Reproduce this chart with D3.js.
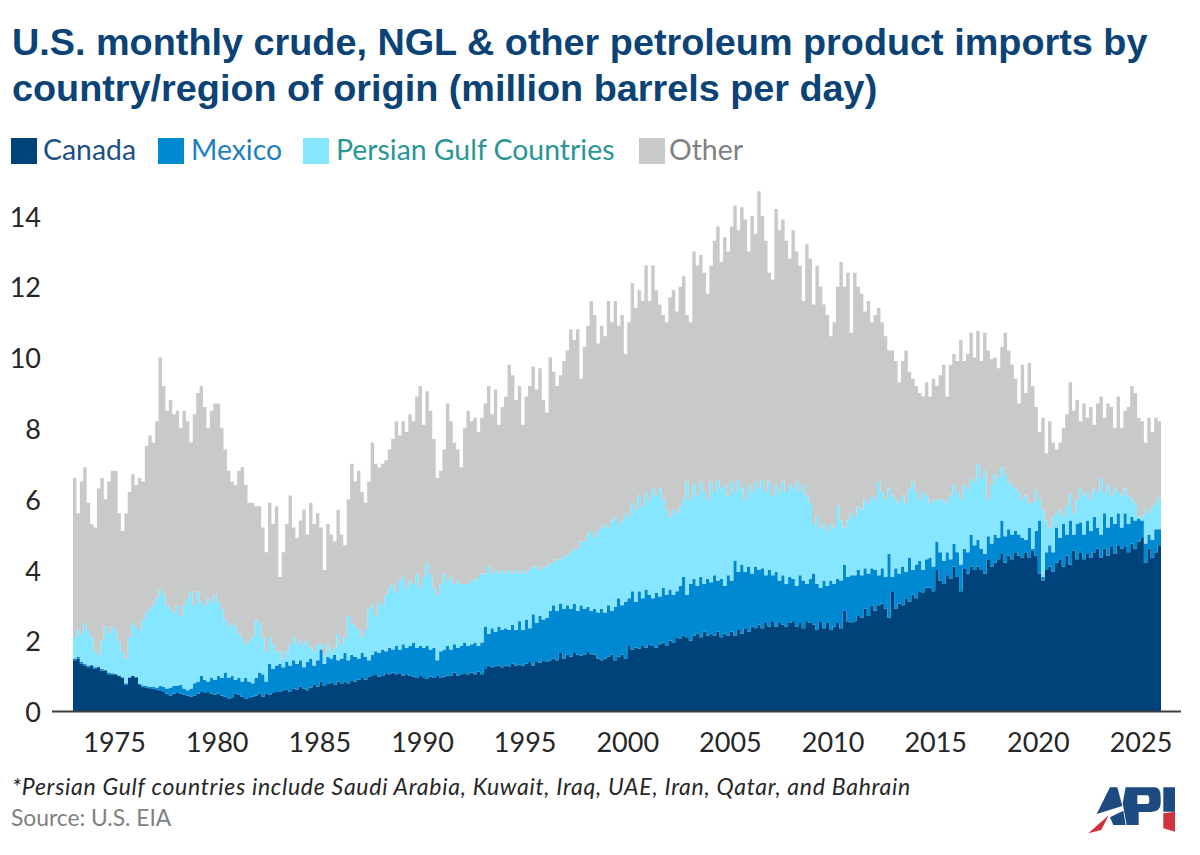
<!DOCTYPE html>
<html><head><meta charset="utf-8">
<script src="https://cdn.jsdelivr.net/npm/d3@7/dist/d3.min.js"></script>
<style>
html,body{margin:0;padding:0;background:#fff}
svg{display:block}
text{font-family:Lato,"Open Sans",sans-serif}
</style></head><body>
<svg id="c" width="1200" height="855"></svg>
<script>
const titleLines = ["U.S. monthly crude, NGL & other petroleum product imports by","country/region of origin (million barrels per day)"];
const seriesNames = ["Canada","Mexico","Persian Gulf Countries","Other"];
const seriesColors = ["#00427a","#0089d3","#86e5ff","#c8c9c9"];
const legendTextColors = ["#1d4f87","#1f7fc1","#2a9597","#7f8080"];
const yTicks = [0,2,4,6,8,10,12,14];
const xTicks = [1975,1980,1985,1990,1995,2000,2005,2010,2015,2020,2025];
const startYear = 1973, samplesPerYear = 6;

// Levels (stack boundaries), six readings per year, 1973-2025
const canadaLevel = [
1.45,1.5,1.35,1.3,1.25,1.3, 1.2,1.25,1.15,1.15,1.05,1.05, 1.05,1.0,.95,.75,.95,1.0, .95,.75,.7,.68,.66,.65,
.62,.6,.55,.5,.45,.5, .52,.5,.48,.45,.42,.45, .5,.55,.52,.55,.5,.48, .5,.45,.42,.35,.4,.5,
.48,.42,.35,.38,.42,.45, .5,.42,.5,.48,.52,.55, .55,.6,.62,.55,.65,.62, .7,.65,.6,.68,.75,.7,
.85,.72,.78,.82,.75,.85, .78,.85,.8,.88,.85,.9, .95,.9,.98,1.0,1.05,.98, 1.0,1.08,1.05,1.1,1.05,1.08,
1.02,1.05,1.0,.98,.95,1.0, .95,.92,.98,.95,1.0,.95, .98,1.02,1.0,1.1,1.02,1.05, 1.08,1.05,1.1,1.05,1.12,1.05,
1.2,1.3,1.25,1.28,1.3,1.25, 1.3,1.28,1.35,1.3,1.32,1.3, 1.35,1.4,1.3,1.42,1.38,1.45, 1.4,1.45,1.5,1.45,1.65,1.5,
1.6,1.55,1.65,1.6,1.58,1.6, 1.68,1.62,1.6,1.5,1.45,1.5, 1.55,1.6,1.45,1.55,1.6,1.5, 1.85,1.75,1.8,1.78,1.85,1.8,
1.9,1.85,1.8,1.9,1.95,1.85, 2.0,1.95,2.1,2.05,2.15,2.1, 2.0,2.15,2.2,2.1,2.25,2.15, 2.2,2.15,2.25,2.1,2.2,2.15,
2.25,2.15,2.3,2.2,2.35,2.25, 2.4,2.35,2.45,2.35,2.5,2.4, 2.55,2.4,2.5,2.45,2.4,2.5, 2.55,2.4,2.5,2.35,2.55,2.5,
2.45,2.3,2.55,2.35,2.5,2.3, 2.4,2.5,2.35,2.85,2.55,2.5, 2.55,2.7,2.65,2.9,2.7,3.0, 2.85,3.0,3.05,2.9,2.65,3.4,
2.9,3.05,3.0,3.2,3.1,3.3, 3.2,3.4,3.35,3.5,3.5,3.4, 4.0,3.7,3.6,3.85,3.75,4.1, 3.8,3.4,4.05,3.9,4.1,4.0,
4.1,4.0,3.9,4.3,4.1,4.2, 4.3,4.45,4.2,4.4,4.3,4.5, 4.4,4.35,4.5,4.35,4.55,4.4, 3.9,3.7,4.0,4.1,3.95,4.2,
4.3,4.1,4.4,4.15,4.55,4.3, 4.5,4.3,4.45,4.35,4.5,4.6, 4.35,4.6,4.4,4.65,4.45,4.7, 4.6,4.65,4.5,4.75,4.6,4.8,
4.9,4.2,4.6,4.35,4.5,4.7];
const mexicoLevel = [
1.5,1.55,1.4,1.35,1.3,1.32, 1.25,1.27,1.2,1.18,1.1,1.08, 1.07,1.02,.97,.8,.97,1.02, .98,.78,.74,.72,.7,.7,
.68,.72,.7,.65,.68,.72, .72,.75,.65,.6,.65,.8, .85,1.0,.9,.85,.95,.9, 1.0,.95,1.1,.95,1.0,.9,
.95,.85,.95,.85,.8,.95, 1.1,1.05,.85,1.35,1.2,1.3, 1.35,1.25,1.4,1.3,1.45,1.35, 1.45,1.25,1.4,1.5,1.3,1.45,
1.75,1.35,1.55,1.5,1.6,1.45, 1.5,1.65,1.45,1.6,1.55,1.5, 1.65,1.55,1.45,1.6,1.7,1.65, 1.75,1.7,1.8,1.75,1.85,1.75,
1.9,1.8,1.85,1.95,1.8,1.85, 1.8,1.85,1.75,1.8,1.45,1.7, 1.75,1.85,1.75,1.9,1.8,1.85, 1.95,1.85,1.9,1.95,1.85,1.95,
2.4,2.2,2.35,2.25,2.4,2.3, 2.35,2.3,2.45,2.3,2.55,2.3, 2.6,2.35,2.75,2.5,2.7,2.6, 2.65,2.85,3.0,2.85,3.05,2.9,
3.0,2.9,3.05,2.85,3.0,2.9, 2.95,2.85,2.9,2.8,2.9,2.8, 3.0,2.85,2.95,3.2,3.0,3.1, 3.2,3.4,3.1,3.4,3.2,3.45,
3.3,3.2,3.35,3.25,3.5,3.3, 3.45,3.3,3.4,3.55,3.8,3.3, 3.6,3.75,3.55,3.8,3.6,3.75, 3.65,3.85,3.7,3.75,3.55,3.85,
3.7,4.25,3.95,4.15,3.95,4.1, 3.9,4.1,4.0,4.05,3.85,4.0, 3.85,3.95,3.7,3.85,3.6,3.8, 3.75,3.55,3.85,3.7,3.6,3.75,
3.9,3.6,3.5,3.7,3.55,3.7, 3.6,3.75,3.7,4.15,3.8,3.85, 3.85,4.0,3.85,4.05,3.9,4.05, 4.0,3.85,4.05,3.8,4.45,3.8,
4.05,3.9,4.1,3.95,4.35,4.0, 4.15,4.25,4.0,4.3,4.35,4.1, 4.8,4.5,4.25,4.5,4.3,4.75, 4.5,4.15,4.6,4.5,5.0,4.7,
4.85,4.6,4.45,4.95,4.75,5.0, 4.9,5.4,4.95,5.15,5.0,5.1, 5.0,4.9,4.85,5.2,4.6,5.1, 5.4,3.8,4.5,4.7,4.5,5.2,
4.9,5.3,5.0,5.4,5.0,5.3, 5.35,5.0,5.4,5.1,5.5,5.2, 5.0,5.6,5.2,5.5,5.3,5.6, 5.2,5.6,5.3,5.5,5.4,5.45,
5.4,4.75,5.0,4.85,5.15,5.15];
const gulfLevel = [
2.1,2.3,2.2,2.5,2.3,2.1, 1.7,1.6,2.0,2.4,2.2,2.4, 2.3,2.0,1.7,1.5,2.1,2.5, 2.4,2.3,2.6,2.8,2.9,3.0,
3.2,3.45,3.3,3.0,2.9,2.8, 3.0,2.7,3.0,3.2,3.4,3.0, 3.4,3.1,3.0,3.2,3.1,3.3, 3.1,2.9,2.6,2.4,2.5,2.4,
2.2,2.1,1.9,2.0,2.1,2.6, 2.5,2.1,1.7,2.1,1.9,1.7, 1.7,1.5,1.7,1.9,2.1,1.9, 2.0,1.9,2.0,1.8,1.7,1.9,
1.9,1.6,1.9,1.7,1.8,2.2, 1.9,2.1,2.7,2.5,2.4,2.3, 2.1,2.3,2.9,3.0,2.7,3.1, 3.0,3.3,3.5,3.6,3.4,3.7,
3.8,3.5,3.7,3.6,3.9,3.5, 3.8,4.2,3.9,3.5,3.3,3.6, 3.9,3.7,3.8,3.6,3.7,3.6, 3.6,3.6,3.7,3.7,3.8,3.9,
3.9,4.1,3.9,4.0,3.9,4.0, 3.9,4.0,3.9,4.0,3.9,4.0, 3.9,4.0,4.1,4.1,4.0,4.1, 4.1,4.2,4.2,4.3,4.3,4.4,
4.4,4.5,4.6,4.6,4.8,4.8, 5.0,5.1,4.9,5.1,5.2,5.3, 5.2,5.4,5.5,5.3,5.4,5.6, 5.5,5.9,5.7,6.1,5.8,6.2,
6.0,6.3,6.1,6.3,6.0,5.7, 5.5,5.7,5.6,5.8,6.0,6.5, 6.0,6.4,6.1,6.5,6.2,6.0, 6.5,6.2,6.55,6.3,6.4,6.1,
6.5,6.2,6.55,6.3,6.0,6.4, 6.2,6.5,6.3,6.55,6.2,6.5, 6.1,6.4,6.2,6.5,6.2,6.4, 6.3,6.5,6.2,6.4,6.1,5.9,
5.3,5.5,5.2,5.3,5.1,5.3, 5.2,5.8,5.4,5.2,5.4,5.6, 5.5,5.8,5.7,6.0,5.9,6.1, 6.0,6.5,6.2,6.0,6.3,6.1,
6.0,5.9,6.1,5.9,6.3,6.5, 6.2,6.0,6.2,6.1,5.9,6.0, 5.95,6.0,6.0,5.9,6.1,6.4, 6.2,6.0,6.4,6.3,6.6,6.5,
7.0,6.6,6.8,6.0,6.4,6.7, 6.6,6.9,6.7,6.5,6.4,6.3, 6.2,6.0,6.1,5.9,5.9,6.25, 6.0,5.7,5.4,5.2,5.5,5.6,
5.7,5.5,5.8,6.15,5.6,6.0, 6.3,6.1,6.2,6.0,6.3,6.2, 6.6,6.2,6.4,6.1,6.3,6.2, 6.1,6.3,6.1,6.0,5.9,5.5,
5.5,5.7,5.6,5.8,5.9,6.05];
const totalLevel = [
6.6,5.6,6.5,6.9,5.9,5.3, 5.2,6.3,6.6,6.0,6.5,6.8, 6.8,5.6,5.1,5.6,6.2,6.7, 6.4,6.6,6.5,7.5,7.8,7.6,
8.2,10,9.2,8.5,8.8,8.4, 8.5,8.0,8.5,8.2,7.6,8.4, 9.0,9.2,8.6,8.0,8.5,8.7, 8.7,8.0,7.4,6.8,6.5,6.4,
6.8,6.9,6.4,5.9,5.9,5.8, 5.8,5.2,4.5,5.9,5.3,5.8, 3.8,4.5,5.3,6.1,5.2,4.9, 5.4,5.7,5.0,5.9,5.3,5.6,
5.2,4.0,5.3,5.0,4.8,5.7, 5.0,4.7,6.0,7.0,6.5,6.8, 6.2,5.9,6.5,7.6,7.0,6.9, 7.0,7.1,7.4,7.7,8.2,7.8,
8.2,7.9,8.4,8.2,8.9,9.2, 8.1,9.05,8.5,7.7,6.6,6.8, 7.4,8.7,8.2,7.6,7.4,6.9, 8.0,8.5,8.2,8.3,7.9,8.3,
8.7,9.2,8.4,9.1,8.1,8.6, 8.9,9.8,9.5,8.8,9.2,8.1, 8.9,9.2,9.75,9.1,9.7,8.8, 8.45,10,9.6,9.2,9.5,9.9,
10.2,10.8,10.5,10.8,9.4,10.3, 10.9,11.6,11.2,10.4,10.9,10.6, 11.6,11.0,11.6,10.9,11.2,10.1, 11.0,12.1,11.4,11.9,11.6,12.6,
11.6,12.6,11.9,11.5,11.2,11.0, 11.7,11.9,11.3,12.0,12.3,11.2, 11.0,13.0,12.6,12.9,12.4,11.8, 12.6,13.3,13.7,12.7,13.4,13.0,
13.7,14.3,13.6,14.25,13.9,13.0, 14.0,13.5,14.7,14.0,13.3,12.4, 12.2,14.2,13.6,13.9,13.3,12.8, 13.6,13.0,12.6,11.6,13.2,12.8,
11.5,12.6,12.0,11.5,11.2,10.6, 11.0,12.0,12.7,12.0,12.4,10.7, 12.4,12.0,11.8,11.3,11.6,11.0, 11.2,11.4,11.0,10.6,10.2,10.2,
9.9,9.3,9.9,10.2,9.6,9.4, 9.2,9.0,8.9,9.3,8.9,9.4, 9.2,9.5,9.8,8.9,9.8,10.1, 9.9,10.5,9.9,10.1,10.7,10.0,
10.75,9.9,10.7,10.2,9.95,10.0, 9.7,10.3,10.7,10.2,9.8,9.4, 8.7,9.8,9.0,9.85,9.2,8.6, 7.9,8.3,7.3,8.2,7.6,7.4,
7.6,8.0,8.4,9.3,8.5,8.8, 8.2,8.7,8.3,8.6,8.1,8.7, 8.9,8.3,8.7,8.6,8.0,8.9, 8.0,8.5,8.6,9.2,9.0,8.3,
8.2,7.6,8.3,7.9,8.3,8.2];

const svg = d3.select("#c");
const defs = svg.append("defs");
defs.append("filter").attr("id", "soft").attr("x", "-2%").attr("y", "-2%").attr("width", "104%").attr("height", "104%")
  .append("feGaussianBlur").attr("stdDeviation", 0.55);

const x = d3.scaleLinear().domain([startYear, 2026]).range([73, 1161]);
const y = d3.scaleLinear().domain([0, 14]).range([711.5, 216]);

const rows = canadaLevel.map((c, i) => {
  const m = Math.max(mexicoLevel[i], c), g = Math.max(gulfLevel[i], m), t = Math.max(totalLevel[i], g);
  return {year: startYear + i / samplesPerYear, Canada: c, Mexico: m - c, "Persian Gulf Countries": g - m, Other: t - g};
});
rows.push({...rows[rows.length - 1], year: 2026});

const stack = d3.stack().keys(seriesNames)(rows);
const area = d3.area().curve(d3.curveStepAfter)
  .x(d => x(d.data.year)).y0(d => y(d[0])).y1(d => y(d[1]));
const color = d3.scaleOrdinal(seriesNames, seriesColors);
const textColor = d3.scaleOrdinal(seriesNames, legendTextColors);

svg.append("g").attr("filter", "url(#soft)").selectAll("path").data(stack).join("path")
  .attr("d", area).attr("fill", d => color(d.key));

// baseline
svg.append("line").attr("x1", 52).attr("x2", 1181).attr("y1", y(0)).attr("y2", y(0))
  .attr("stroke", "#3f3f3f").attr("stroke-width", 2);

// axes
const gy = svg.append("g").attr("transform", "translate(41,1.5)")
  .call(d3.axisLeft(y).tickValues(yTicks).tickSize(0).tickPadding(0));
gy.select(".domain").remove();
gy.selectAll("text").attr("font-size", 27).attr("fill", "#262626").style("font-family", "Lato");
const gx = svg.append("g").attr("transform", "translate(0,752)")
  .call(d3.axisBottom(x).tickValues(xTicks).tickFormat(d3.format("d")).tickSize(0).tickPadding(0));
gx.select(".domain").remove();
gx.selectAll("text").attr("font-size", 27).attr("fill", "#262626").attr("dy", 0).attr("y", 0).style("font-family", "Lato");

// title
svg.append("g").selectAll("text").data(titleLines).join("text")
  .attr("x", 12).attr("y", (d, i) => 55 + i * 46)
  .attr("font-size", 37.8).attr("font-weight", 700).attr("fill", "#0b4377")
  .style("font-family", "'Liberation Sans'").text(d => d);

// legend
const swatchX = [11, 158, 303, 639], labelX = [43, 191, 336, 669];
const legend = svg.append("g").selectAll("g").data(seriesNames).join("g");
legend.append("rect").attr("x", (d, i) => swatchX[i]).attr("y", 138).attr("width", 26).attr("height", 26).attr("fill", d => color(d));
legend.append("text").attr("x", (d, i) => labelX[i]).attr("y", 160).attr("font-size", 28.4)
  .attr("fill", d => textColor(d)).text(d => d);

// notes
svg.append("text").attr("x", 12).attr("y", 795).attr("font-size", 23).attr("font-style", "italic").attr("fill", "#262626")
  .attr("letter-spacing", 0.72)
  .text("*Persian Gulf countries include Saudi Arabia, Kuwait, Iraq, UAE, Iran, Qatar, and Bahrain");
svg.append("text").attr("x", 11).attr("y", 826).attr("font-size", 22.8).attr("fill", "#7f7f7f").text("Source: U.S. EIA");

// API logo
const logo = svg.append("g").attr("transform", "translate(1060,770) scale(0.3333)");
logo.append("path").attr("fill", "#1d4a80").attr("fill-rule", "evenodd").attr("d",
 "M110,132L150,52L172,52L187,108ZM150,142L190,122L197,165L160,165Z" +
 "M197,52L285,52Q302,52 302,82L302,100Q302,126 272,126L236,126L236,165L200,165L188,100Z M232,76L232,102L262,102Q268,102 268,90Q268,76 262,76Z" +
 "M310,52L345,52L345,125L310,125Z");
logo.append("path").attr("fill", "#cf3340").attr("d", "M85,190L146,136L124,180ZM310,130L345,125L345,185L310,175Z");
</script>
</body></html>
